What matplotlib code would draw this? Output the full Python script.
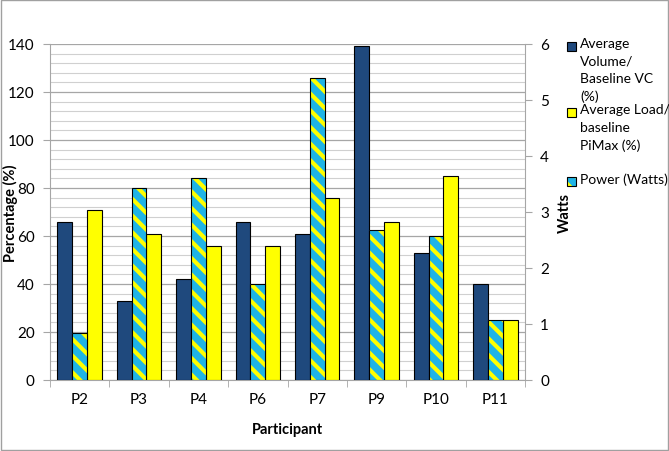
import matplotlib
matplotlib.use("Agg")
import matplotlib.pyplot as plt
import numpy as np
from matplotlib.patches import Rectangle

participants = ["P2", "P3", "P4", "P6", "P7", "P9", "P10", "P11"]
volume_pct = [66, 33, 42, 66, 61, 139, 53, 40]
load_pct = [71, 61, 56, 56, 76, 66, 85, 25]
power_watts = [0.84, 3.43, 3.6, 1.71, 5.4, 2.68, 2.57, 1.07]

blue = "#1F497D"
yellow = "#FFFF00"
cyan = "#1FB4E6"
grid_major = "#A6A6A6"
grid_minor = "#D0D0D0"

plt.rcParams["font.family"] = ["Lato", "DejaVu Sans"]
plt.rcParams["hatch.linewidth"] = 3.0

W, H = 669, 452
fig = plt.figure(figsize=(W / 100, H / 100), dpi=100)
fig.patches.append(Rectangle((0.002, 0.002), 0.996, 0.996, transform=fig.transFigure,
                             fill=False, edgecolor="#A0A0A0", linewidth=1))
ax = fig.add_axes([50 / W, 1 - 381 / H, 475 / W, 336 / H])
ax2 = ax.twinx()

x = np.arange(len(participants))
w = 0.25

ax.set_ylim(0, 140)
ax2.set_ylim(0, 6)
ax.set_xlim(-0.5, len(participants) - 0.5)

ax.set_yticks(np.arange(0, 141, 20))
ax.set_yticks(np.arange(0, 141, 4), minor=True)
ax.grid(True, which="minor", axis="y", color=grid_minor, linewidth=0.8)
ax.grid(True, which="major", axis="y", color=grid_major, linewidth=0.9)
ax.set_axisbelow(True)

ax.bar(x - w, volume_pct, width=w, color=blue, edgecolor="black", linewidth=0.8, zorder=3)
ax.bar(x + w, load_pct, width=w, color=yellow, edgecolor="black", linewidth=0.8, zorder=3)
ax2.bar(x, power_watts, width=w, color=cyan, edgecolor=yellow, hatch=r"\\", linewidth=0, zorder=3)
ax2.bar(x, power_watts, width=w, fill=False, edgecolor="black", linewidth=0.8, zorder=4)

ax2.set_yticks(np.arange(0, 7, 1))

for a in (ax, ax2):
    for s in a.spines.values():
        s.set_visible(False)
    a.tick_params(axis="y", which="minor", length=0)
    a.tick_params(axis="y", which="major", length=5, color=grid_major, labelsize=11, pad=6)
ax.spines["left"].set_visible(True)
ax.spines["left"].set_color(grid_major)
ax.spines["bottom"].set_visible(True)
ax.spines["bottom"].set_color(grid_major)
ax2.spines["right"].set_visible(True)
ax2.spines["right"].set_color(grid_major)

ax.set_xticks(x)
ax.set_xticklabels(participants)
ax.tick_params(axis="x", length=0, labelsize=11, pad=9)
ax.set_xticks(np.arange(-0.5, len(participants), 1), minor=True)
ax.tick_params(axis="x", which="minor", length=5, color=grid_major)

ax.set_ylabel("Percentage (%)", fontsize=10.5, fontweight="bold")
ax.yaxis.set_label_coords((18 - 50) / 475, 0.5)
ax2.set_ylabel("Watts", fontsize=10.5, fontweight="bold")
ax2.yaxis.set_label_coords((558 - 50) / 475, 0.5)
ax.set_xlabel("Participant", fontsize=10.5, fontweight="bold")
ax.xaxis.set_label_coords(0.5, (381 - 423) / 336)

# legend (manual, handles aligned to first text line)
entries = [
    (blue, False, "Average\nVolume/\nBaseline VC\n(%)", 47),
    (yellow, False, "Average Load/\nbaseline\nPiMax (%)", 113),
    (cyan, True, "Power (Watts)", 182),
]
for color, hatched, label, yc in entries:
    sq = 9
    r = Rectangle((567 / W, 1 - (yc + sq / 2) / H), sq / W, sq / H, transform=fig.transFigure,
                  facecolor=color, edgecolor="black" if not hatched else yellow,
                  linewidth=0 if hatched else 0.8, hatch=r"\\" if hatched else None)
    fig.patches.append(r)
    if hatched:
        fig.patches.append(Rectangle((567 / W, 1 - (yc + sq / 2) / H), sq / W, sq / H,
                                     transform=fig.transFigure, fill=False,
                                     edgecolor="black", linewidth=0.8))
    fig.text(580 / W, 1 - (yc - 8.5) / H, label, fontsize=10, va="top", ha="left",
             linespacing=1.52)

fig.savefig("out.png", dpi=100)
